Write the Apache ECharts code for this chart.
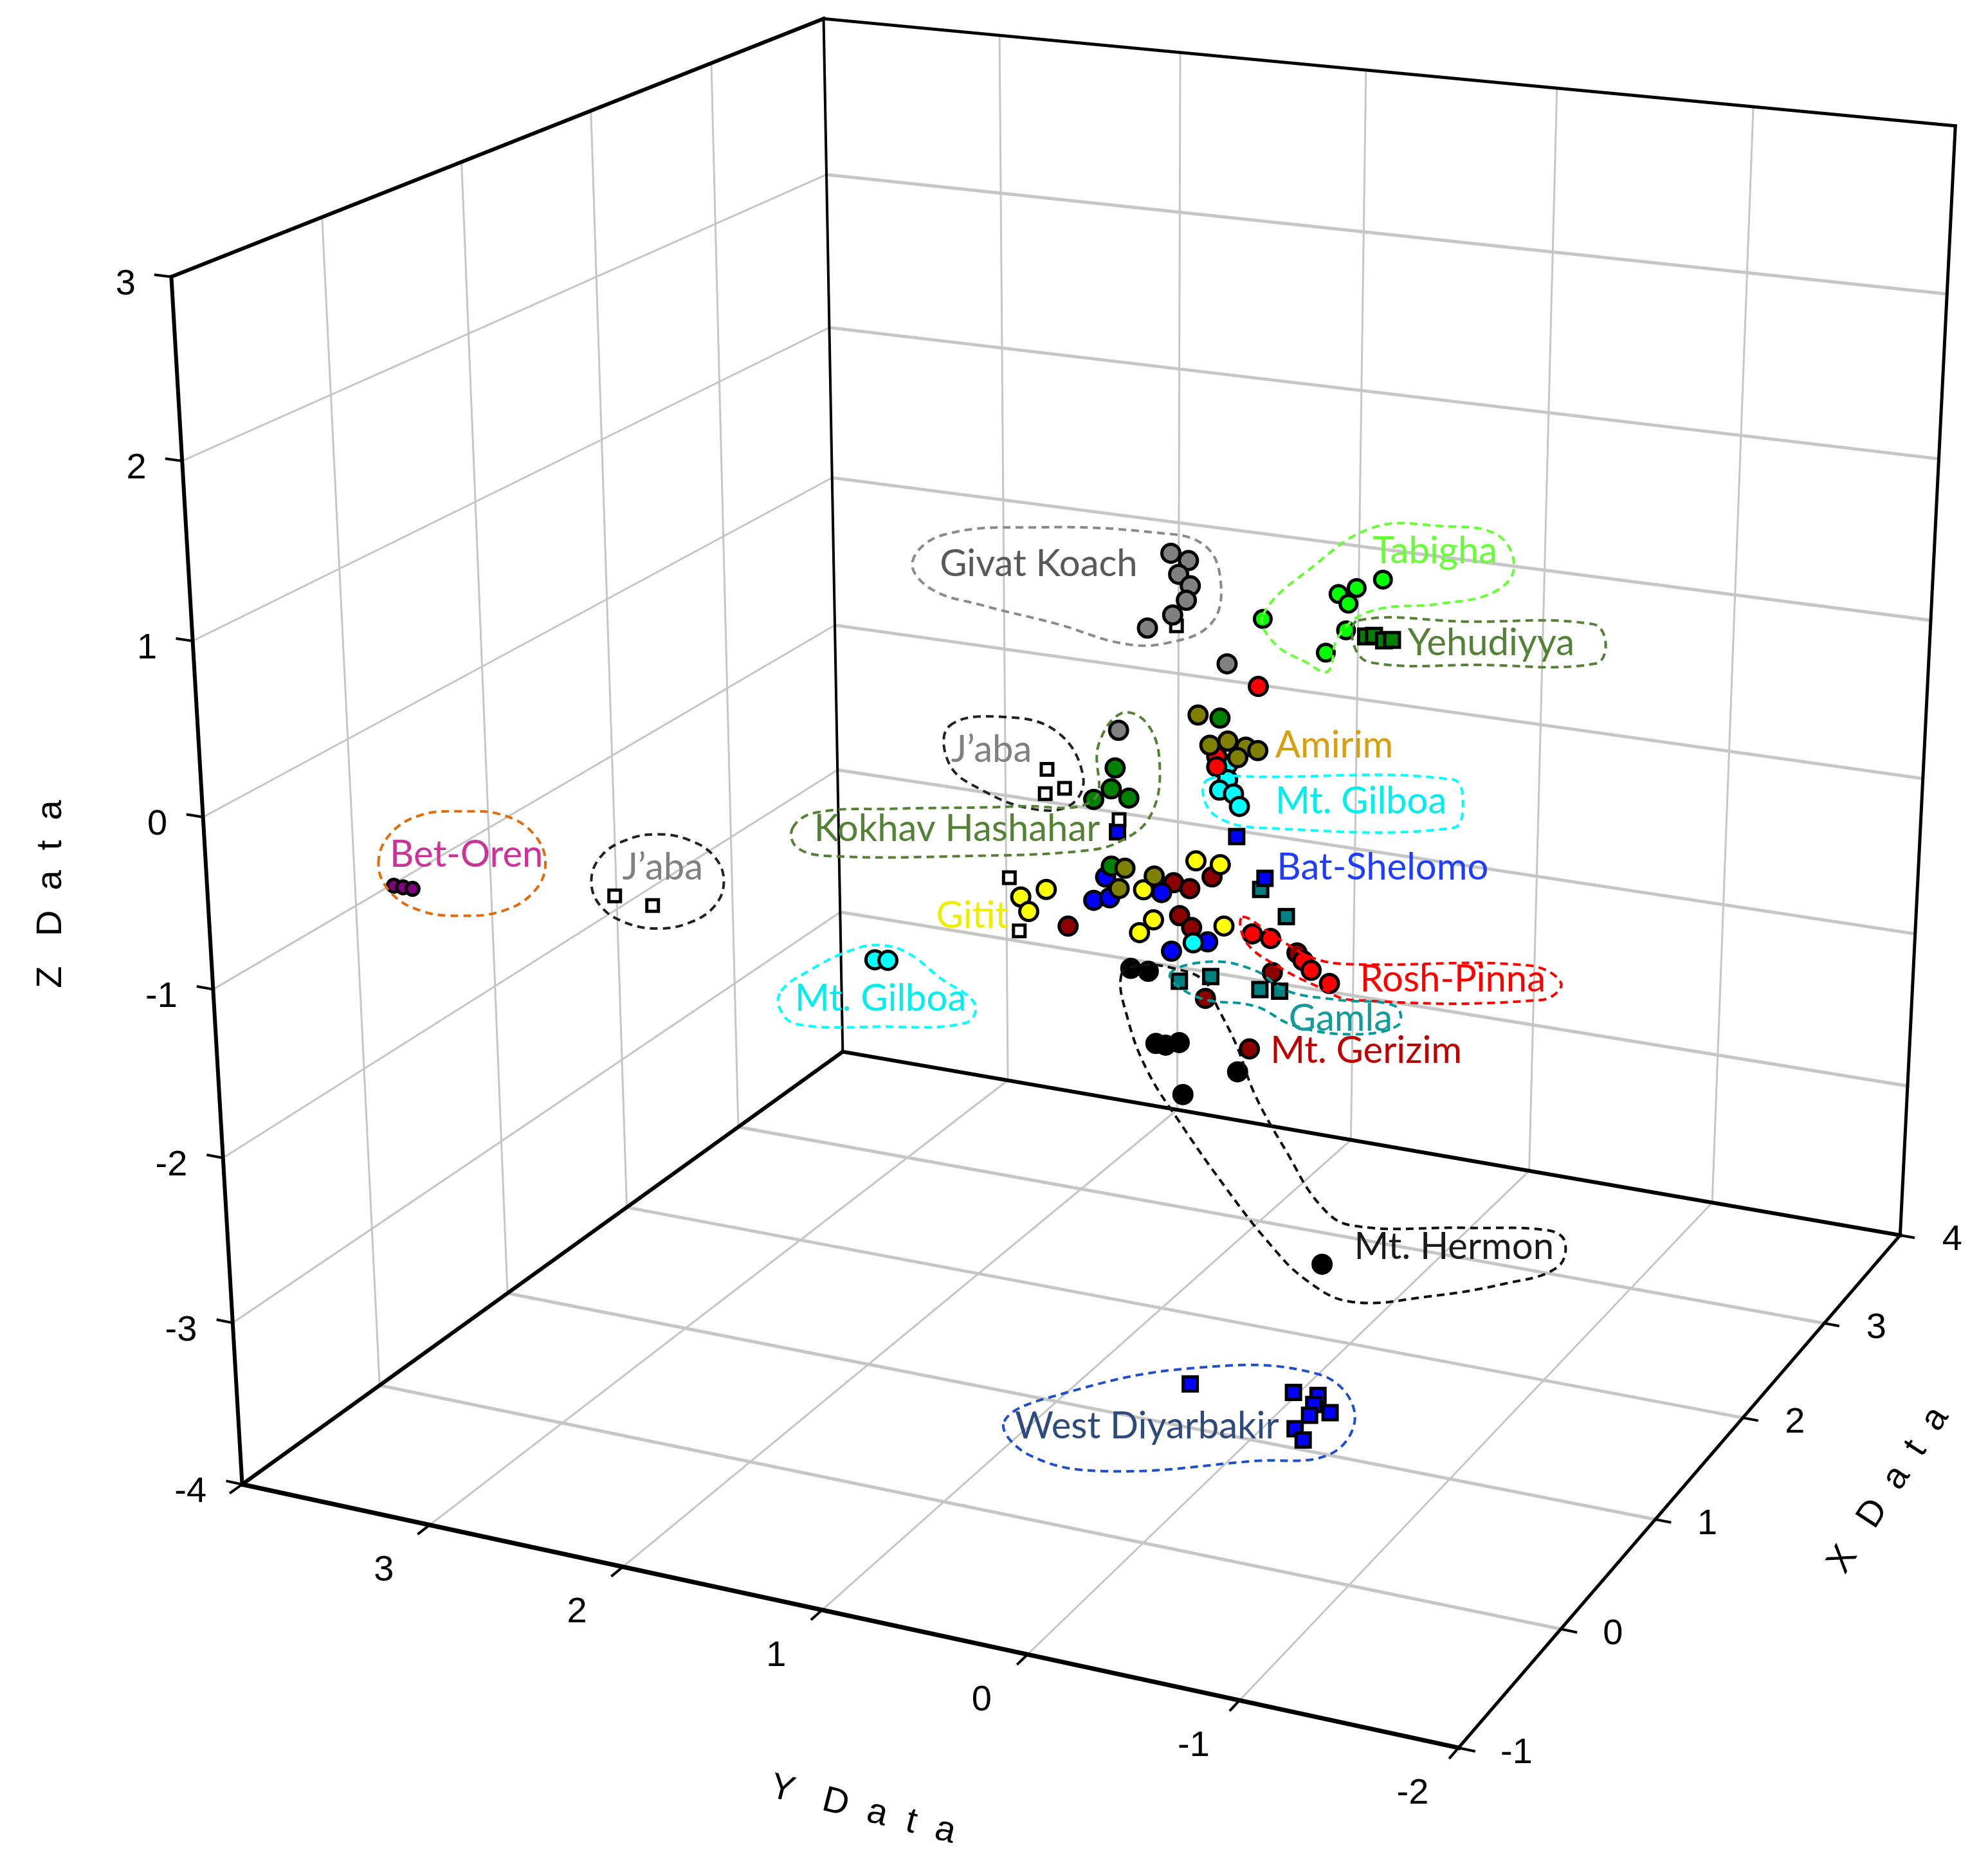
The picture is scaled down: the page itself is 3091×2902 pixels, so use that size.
<!DOCTYPE html>
<html>
<head>
<meta charset="utf-8">
<script src="https://cdn.jsdelivr.net/npm/echarts@6/dist/echarts.min.js"></script>
<style>
  html, body { margin: 0; padding: 0; background: #fff; }
  #chart { width: 3091px; height: 2902px; }
</style>
</head>
<body>
<div id="chart"></div>
<script>
// ---- axes of the 3D box ----
const xRange = [-1, 4];
const yRange = [-2, 4];
const zRange = [-4, 3];
const xTicks = [-1, 0, 1, 2, 3, 4];
const yTicks = [-2, -1, 0, 1, 2, 3];
const zTicks = [-4, -3, -2, -1, 0, 1, 2, 3];

// ---- samples, [X, Y, Z] ----
const givatKoach = [[2, 0.96, 0.76], [2, 0.87, 0.73], [2, 0.92, 0.64], [2, 0.86, 0.58], [2, 0.88, 0.49],
  [2, 0.95, 0.39], [2, 1.08, 0.29], [2, 0.67, 0.14], [2, 1.23, -0.36]];
const jaba = [[1.5, 0.66, 0.58], [1.5, 1.32, -0.39], [1.5, 1.33, -0.54], [1.5, 1.23, -0.49], [1.5, 0.95, -0.63],
  [1.5, 1.52, -1.09], [1.5, 1.47, -1.41], [0.5, 2.97, -0.99], [0.5, 2.77, -1.01]];
const tabigha = [[2, -0.11, 0.77], [2, 0.02, 0.70], [2, 0.11, 0.65], [2, 0.06, 0.60], [2, 0.49, 0.44],
  [2, 0.07, 0.44], [2, 0.17, 0.29]];
const yehudiyya = [[2, -0.03, 0.42], [2, -0.07, 0.43], [2, -0.12, 0.41], [2, -0.16, 0.42]];
const amirim = [[1.5, 0.55, 0.07], [1.5, 0.49, -0.10], [1.5, 0.40, -0.06], [1.5, 0.31, -0.08], [1.5, 0.25, -0.09],
  [1.5, 0.35, -0.15], [1.5, 0.92, -0.92], [1.5, 0.95, -1.05], [1.5, 0.77, -0.94]];
const kokhavHashahar = [[1.5, 0.44, 0.07], [1.5, 0.97, -0.32], [1.5, 0.99, -0.45], [1.5, 1.08, -0.53],
  [1.5, 0.90, -0.49], [1.5, 0.99, -0.92]];
const roshPinna = [[1, -0.01, 0.55], [1, 0.19, 0.11], [1, 0.19, 0.05], [1, 0.01, -0.90], [1, -0.08, -0.91],
  [1, -0.24, -1.01], [1, -0.28, -1.06], [1, -0.37, -1.12]];
const mtGilboa = [[1.5, 0.40, -0.20], [1.5, 0.40, -0.29], [1.5, 0.44, -0.36], [1.5, 0.37, -0.37],
  [1.5, 0.34, -0.44], [1.5, 0.57, -1.31], [1.5, 2.24, -1.74], [1.5, 2.17, -1.73]];
const batShelomoSq = [[1, 0.68, -0.42], [1, 0.09, -0.34], [1, -0.05, -0.56]];
const batShelomo = [[1, 0.74, -0.70], [1, 0.80, -0.85], [1, 0.72, -0.82], [1, 0.46, -0.74], [1, 0.23, -0.99],
  [1, 0.41, -1.08]];
const gitit = [[1, 1.04, -0.83], [1, 1.17, -0.90], [1, 1.13, -0.98], [1, 0.29, -0.52], [1, 0.17, -0.52],
  [1, 0.55, -0.74], [1, 0.50, -0.91], [1, 0.57, -1.00], [1, 0.15, -0.88]];
const mtGerizim = [[1, 0.21, -0.60], [1, 0.40, -0.67], [1, 0.32, -0.69], [1, 0.93, -1.03], [1, 0.37, -0.86],
  [1, 0.31, -0.92], [1, -0.21, -0.97], [1, -0.09, -1.11], [1, 0.24, -1.33], [1, 0.02, -1.59]];
const gamla = [[1.5, 0.23, -0.92], [1.5, 0.10, -1.06], [1.5, 0.64, -1.56], [1.5, 0.48, -1.50], [1.5, 0.23, -1.53],
  [1.5, 0.13, -1.52]];
const mtHermon = [[1.5, 0.89, -1.53], [1.5, 0.80, -1.53], [1.5, 0.76, -1.97], [1.5, 0.71, -1.97],
  [1.5, 0.64, -1.94], [1.5, 0.34, -2.06], [1.5, 0.62, -2.26], [1.5, -0.10, -3.17]];
const betOren = [[0, 3.79, -0.84], [0, 3.74, -0.84], [0, 3.69, -0.84]];
const westDiyarbakir = [[0.5, 0.04, -3.35], [0.5, -0.47, -3.28], [0.5, -0.59, -3.27], [0.5, -0.57, -3.33],
  [0.5, -0.65, -3.36], [0.5, -0.55, -3.40], [0.5, -0.48, -3.50], [0.5, -0.52, -3.56]];

// page units: the canvas is drawn on a 1560 x 1465 grid
const PAGE_W = 1560, PAGE_H = 1465;

// where the corners of the box sit on the page (X, Y, Z, u, v)
const frameCorners = [
  [-1, 4, -4, 190, 1164],
  [-1, 4, 3, 134, 218],
  [4, 4, -4, 661, 827],
  [4, 4, 3, 647, 14],
  [4, -2, -4, 1491, 969],
  [4, -2, 3, 1534, 99],
  [-1, -2, -4, 1145, 1373]
];

// least squares fit of a perspective camera to the frame corners
function fitProjection(anchors) {
  const S = 1000, n = 11;
  const N = Array.from({ length: n }, () => new Array(n + 1).fill(0));
  const add = (row, rhs) => {
    for (let i = 0; i < n; i++) {
      for (let j = 0; j < n; j++) N[i][j] += row[i] * row[j];
      N[i][n] += row[i] * rhs;
    }
  };
  anchors.forEach(([X, Y, Z, u0, v0]) => {
    const u = u0 / S, v = v0 / S;
    add([X, Y, Z, 1, 0, 0, 0, 0, -u * X, -u * Y, -u * Z], u);
    add([0, 0, 0, 0, X, Y, Z, 1, -v * X, -v * Y, -v * Z], v);
  });
  for (let c = 0; c < n; c++) {
    let piv = c;
    for (let r = c + 1; r < n; r++) if (Math.abs(N[r][c]) > Math.abs(N[piv][c])) piv = r;
    const tmp = N[c]; N[c] = N[piv]; N[piv] = tmp;
    for (let r = 0; r < n; r++) {
      if (r === c) continue;
      const f = N[r][c] / N[c][c];
      for (let k = c; k <= n; k++) N[r][k] -= f * N[c][k];
    }
  }
  const p = N.map((row, i) => row[n] / row[i]);
  return (X, Y, Z) => {
    const w = p[8] * X + p[9] * Y + p[10] * Z + 1;
    return [S * (p[0] * X + p[1] * Y + p[2] * Z + p[3]) / w,
            S * (p[4] * X + p[5] * Y + p[6] * Z + p[7]) / w];
  };
}
const proj = fitProjection(frameCorners);

// ---- frame: grid lines, edges, ticks ----
const GRID = '#c6c6c6';
const segs = [];
function seg3(a, b, width, color) {
  const p = proj(a[0], a[1], a[2]), q = proj(b[0], b[1], b[2]);
  segs.push({ pts: [p[0], p[1], q[0], q[1]], width: width, color: color });
}
const [x0, x1] = xRange, [y0, y1] = yRange, [z0, z1] = zRange;
const inner = (ticks, r) => ticks.filter(t => t > r[0] && t < r[1]);
const yGrid = [-1, 0, 1, 2, 3];

inner(xTicks, xRange).forEach(x => seg3([x, y0, z0], [x, y1, z0], 5, GRID));   // floor
yGrid.forEach(y => seg3([x0, y, z0], [x1, y, z0], 3, GRID));
inner(xTicks, xRange).forEach(x => seg3([x, y1, z0], [x, y1, z1], 3, GRID));   // left wall
inner(zTicks, zRange).forEach(z => seg3([x0, y1, z], [x1, y1, z], 3, GRID));
yGrid.forEach(y => seg3([x1, y, z0], [x1, y, z1], 3, GRID));                   // back wall
inner(zTicks, zRange).forEach(z => seg3([x1, y0, z], [x1, y1, z], 5, GRID));

const EDGE = '#000000';
seg3([x0, y1, z0], [x0, y1, z1], 6, EDGE);
seg3([x0, y1, z1], [x1, y1, z1], 6, EDGE);
seg3([x1, y1, z0], [x1, y1, z1], 4, EDGE);
seg3([x1, y1, z1], [x1, y0, z1], 5, EDGE);
seg3([x1, y0, z0], [x1, y0, z1], 5, EDGE);
seg3([x0, y1, z0], [x1, y1, z0], 6, EDGE);
seg3([x1, y1, z0], [x1, y0, z0], 6, EDGE);
seg3([x0, y1, z0], [x0, y0, z0], 7, EDGE);
seg3([x0, y0, z0], [x1, y0, z0], 5, EDGE);

const texts = [];
const TICK_FONT = '56px "Liberation Sans", Arial, sans-serif';
zTicks.forEach(z => {
  seg3([x0, y1, z], [x0, y1 + 0.08, z], 4, EDGE);
  const p = proj(x0, y1, z);
  texts.push({ text: String(z), x: p[0] - 28, y: p[1] + 6, align: 'right', color: '#000', font: TICK_FONT });
});
yTicks.concat([4]).forEach(y => {
  seg3([x0, y, z0], [x0 - 0.08, y, z0], 4, EDGE);
});
yTicks.forEach(y => {
  const p = proj(x0, y, z0);
  texts.push({ text: String(y), x: p[0] - 36, y: p[1] + 36, align: 'center', color: '#000', font: TICK_FONT });
});
xTicks.forEach(x => {
  seg3([x, y0, z0], [x, y0 - 0.07, z0], 4, EDGE);
  const p = proj(x, y0, z0);
  texts.push({ text: String(x), x: p[0] + 33, y: p[1] + 4, align: 'left', color: '#000', font: TICK_FONT });
});
texts.push({ text: 'Z   D  a  t  a', x: 40, y: 702, rot: Math.PI / 2, align: 'center', color: '#000', font: TICK_FONT });
texts.push({ text: 'Y   D  a  t  a', x: 677, y: 1421, rot: -0.25, align: 'center', color: '#000', font: TICK_FONT });
texts.push({ text: 'X   D  a  t  a', x: 1482, y: 1170, rot: 0.99, align: 'center', color: '#000', font: TICK_FONT });

// ---- hand drawn population labels and dashed outlines ----
const LABEL_FONT = '58px Lato, "Open Sans", sans-serif';
const labels = [
  ['Givat Koach', 815, 443, '#595959'],
  ['Tabigha', 1126, 433, '#66ff33'],
  ['Yehudiyya', 1170, 505, '#548235'],
  ['Amirim', 1047, 585, '#d8a010'],
  ['Mt. Gilboa', 1068, 629, '#00eeee'],
  ['J\u2019aba', 778, 589, '#808080'],
  ['Kokhav Hashahar', 751, 651, '#548235'],
  ['Bet-Oren', 366, 671, '#cc3399'],
  ['J\u2019aba', 520, 681, '#808080'],
  ['Bat-Shelomo', 1085, 681, '#1f3dff'],
  ['Gitit', 763, 719, '#eeee00'],
  ['Mt. Gilboa', 691, 784, '#00eeee'],
  ['Rosh-Pinna', 1140, 769, '#ff0000'],
  ['Gamla', 1052, 800, '#159a9a'],
  ['Mt. Gerizim', 1072, 825, '#c00000'],
  ['Mt. Hermon', 1141, 979, '#1a1a1a'],
  ['West Diyarbakir', 900, 1120, '#2e4a7d']
];
labels.forEach(l => texts.push({ text: l[0], x: l[1], y: l[2], align: 'center', color: l[3], font: LABEL_FONT }));

const outlines = [
  { color: '#8a8a8a', pts: [[716, 441], [740, 420], [815, 414], [905, 418], [945, 428], [958, 458], [950, 490],
    [915, 505], [880, 505], [830, 490], [770, 475], [730, 462]] },
  { color: '#66ff33', pts: [[991, 483], [1030, 445], [1078, 414], [1130, 413], [1175, 420], [1188, 446],
    [1172, 465], [1130, 474], [1075, 480], [1050, 500], [1042, 527], [1025, 520], [1000, 505]] },
  { color: '#548235', pts: [[1066, 487], [1150, 488], [1250, 490], [1260, 505], [1252, 521], [1160, 522],
    [1075, 520], [1062, 505]] },
  { color: '#00ffff', pts: [[948, 612], [990, 610], [1140, 612], [1148, 630], [1140, 650], [990, 650],
    [958, 643], [945, 628]] },
  { color: '#222222', pts: [[745, 570], [790, 563], [830, 575], [850, 610], [840, 632], [810, 635], [770, 620],
    [745, 600]] },
  { color: '#548235', pts: [[622, 650], [640, 638], [700, 635], [800, 633], [858, 628], [862, 585], [880, 560],
    [900, 568], [910, 600], [903, 640], [880, 660], [850, 668], [760, 672], [650, 672], [625, 665]] },
  { color: '#e36c0a', pts: [[297, 678], [306, 655], [330, 640], [362, 637], [395, 640], [419, 655], [428, 678],
    [419, 700], [395, 715], [362, 719], [330, 715], [306, 700]] },
  { color: '#222222', pts: [[464, 692], [471, 673], [490, 660], [516, 655], [542, 660], [561, 673], [568, 692],
    [561, 711], [542, 724], [516, 729], [490, 724], [471, 711]] },
  { color: '#00ffff', pts: [[613, 778], [635, 762], [668, 746], [690, 742], [712, 748], [738, 768], [765, 788],
    [758, 803], [690, 806], [625, 804], [612, 792]] },
  { color: '#ff0000', pts: [[975, 720], [1000, 735], [1030, 752], [1060, 757], [1200, 758], [1225, 772],
    [1210, 785], [1060, 785], [1035, 775], [1005, 760], [978, 740]] },
  { color: '#009999', pts: [[918, 765], [950, 755], [985, 762], [1010, 778], [1050, 785], [1095, 790],
    [1097, 805], [1060, 812], [1015, 805], [985, 790], [940, 783]] },
  { color: '#111111', pts: [[880, 765], [885, 800], [900, 840], [925, 880], [960, 930], [995, 975], [1025, 1005],
    [1060, 1022], [1120, 1018], [1180, 1008], [1222, 995], [1228, 975], [1215, 966], [1150, 964], [1060, 962],
    [1035, 945], [1010, 905], [985, 860], [970, 820], [955, 790], [945, 770], [920, 760], [895, 758]] },
  { color: '#1f4fd0', pts: [[788, 1116], [831, 1095], [937, 1074], [1035, 1079], [1063, 1109], [1045, 1141],
    [985, 1147], [866, 1155], [807, 1142]] }
];

// ---- point groups ----
const groups = [
  { name: 'West Diyarbakir', pts: westDiyarbakir, color: '#0000ff', symbol: 'rect', size: 22 },
  { name: 'Mt. Hermon', pts: mtHermon, color: '#000000', symbol: 'circle', size: 28 },
  { name: 'Gamla', pts: gamla, color: '#008080', symbol: 'rect', size: 22 },
  { name: 'Mt. Gerizim', pts: mtGerizim, color: '#8b0000', symbol: 'circle', size: 28 },
  { name: 'Gitit', pts: gitit, color: '#ffff00', symbol: 'circle', size: 28 },
  { name: 'Bat-Shelomo', pts: batShelomo, color: '#0000ff', symbol: 'circle', size: 28 },
  { name: 'Bat-Shelomo sq', pts: batShelomoSq, color: '#0000ff', symbol: 'rect', size: 22 },
  { name: 'Mt. Gilboa', pts: mtGilboa, color: '#00ffff', symbol: 'circle', size: 28 },
  { name: 'Rosh-Pinna', pts: roshPinna, color: '#ff0000', symbol: 'circle', size: 28 },
  { name: 'Kokhav Hashahar', pts: kokhavHashahar, color: '#008000', symbol: 'circle', size: 28 },
  { name: 'Amirim', pts: amirim, color: '#808000', symbol: 'circle', size: 28 },
  { name: 'Yehudiyya', pts: yehudiyya, color: '#008000', symbol: 'rect', size: 23 },
  { name: 'Tabigha', pts: tabigha, color: '#00ff00', symbol: 'circle', size: 26 },
  { name: 'J\u2019aba', pts: jaba, color: '#ffffff', symbol: 'rect', size: 18 },
  { name: 'Givat Koach', pts: givatKoach, color: '#808080', symbol: 'circle', size: 28 },
  { name: 'Bet-Oren', pts: betOren, color: '#800080', symbol: 'circle', size: 20 }
];

const chart = echarts.init(document.getElementById('chart'));

const series = [
  {
    type: 'custom', name: 'frame', coordinateSystem: 'cartesian2d', silent: true, z: 1,
    data: segs.map(s => s.pts),
    renderItem: (params, api) => {
      const s = segs[params.dataIndex];
      const a = api.coord([api.value(0), api.value(1)]);
      const b = api.coord([api.value(2), api.value(3)]);
      return { type: 'line', shape: { x1: a[0], y1: a[1], x2: b[0], y2: b[1] },
        style: { stroke: s.color, lineWidth: s.width, lineCap: 'square' } };
    }
  }
];

groups.forEach(g => {
  series.push({
    type: 'scatter', name: g.name, silent: true, z: 3,
    symbol: g.symbol, symbolSize: g.size,
    itemStyle: { color: g.color, borderColor: '#000', borderWidth: 5, opacity: 1 },
    data: g.pts.map(p => proj(p[0], p[1], p[2]))
  });
});

series.push({
  type: 'custom', name: 'outlines', coordinateSystem: 'cartesian2d', silent: true, z: 4,
  data: outlines.map(o => o.pts[0]),
  renderItem: (params, api) => {
    const o = outlines[params.dataIndex];
    return { type: 'polygon', shape: { points: o.pts.map(p => api.coord(p)), smooth: 0.4 },
      style: { fill: 'none', stroke: o.color, lineWidth: 4, lineDash: [12, 8] } };
  }
});

series.push({
  type: 'custom', name: 'texts', coordinateSystem: 'cartesian2d', silent: true, z: 5,
  data: texts.map(t => [t.x, t.y]),
  renderItem: (params, api) => {
    const t = texts[params.dataIndex];
    const p = api.coord([api.value(0), api.value(1)]);
    return { type: 'text', x: p[0], y: p[1], rotation: t.rot || 0,
      style: { text: t.text, fill: t.color, font: t.font, align: t.align, verticalAlign: 'middle' } };
  }
});

chart.setOption({
  backgroundColor: '#ffffff',
  animation: false,
  grid: { left: 0, right: 0, top: 0, bottom: 0 },
  xAxis: { type: 'value', min: 0, max: PAGE_W, show: false },
  yAxis: { type: 'value', min: 0, max: PAGE_H, inverse: true, show: false },
  series: series
});
</script>
</body>
</html>
